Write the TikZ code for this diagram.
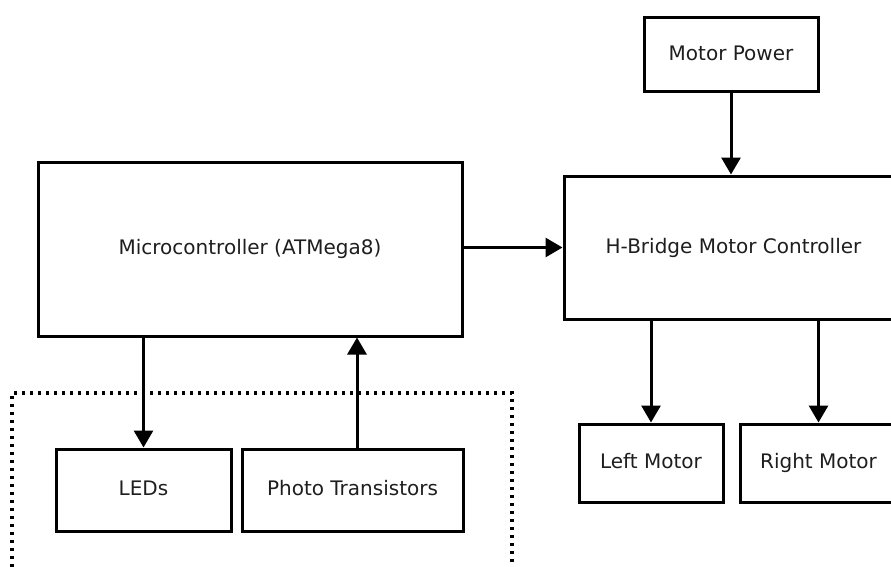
\documentclass[tikz,border=0pt]{standalone}
\usepackage{fontspec}
\setmainfont{DejaVu Sans}
\usetikzlibrary{arrows.meta}

\definecolor{inkline}{HTML}{000000}
\definecolor{inktext}{HTML}{1E1E1E}

\tikzset{
  block/.style={draw=inkline, line width=3pt, rectangle, inner sep=0pt,
                text=inktext, font=\fontsize{20}{24}\selectfont,
                text height=15pt, text depth=4pt},
  flow/.style={draw=inkline, line width=3pt, -{Triangle[width=19pt,length=17pt]}},
  group/.style={draw=inkline, line width=3.5pt, line cap=butt, dash pattern=on 3pt off 5pt}
}

\begin{document}
\begin{tikzpicture}[x=1pt, y=-1pt]
  % page frame and clipping
  \useasboundingbox (0,0) rectangle (891,567);
  \clip (0,0) rectangle (891,567);

  % blocks
  \node[block, minimum width=424pt, minimum height=174pt] (mcu)   at (250,249)   {Microcontroller (ATMega8)};
  \node[block, minimum width=339pt, minimum height=143pt] (hb)    at (733.5,247.5) {H-Bridge Motor Controller};
  \node[block, minimum width=174pt, minimum height=74pt]  (power) at (731,55)    {Motor Power};
  \node[block, minimum width=175pt, minimum height=82pt]  (leds)  at (143.5,490) {LEDs};
  \node[block, minimum width=221pt, minimum height=82pt]  (photo) at (352.5,490) {Photo Transistors};
  \node[block, minimum width=144pt, minimum height=78pt]  (lm)    at (651,463)   {Left Motor};
  \node[block, minimum width=157pt, minimum height=78pt]  (rm)    at (818.5,463) {Right Motor};

  % sensor board outline (dotted, runs off the bottom)
  \coordinate (gbl) at (12,575);
  \coordinate (gtl) at (12,393);
  \coordinate (gtr) at (512,393);
  \coordinate (gbr) at (512,575);
  \draw[group] (gbl) -- (gtl) -- (gtr) -- (gbr);

  % connections
  \draw[flow] (mcu.east |- hb.west) -- (hb.west);
  \draw[flow] (power.south) -- (power.south |- hb.north);
  \draw[flow] (mcu.south -| leds.north) -- (leds.north);
  \draw[flow] ([xshift=4.5pt]photo.north) -- ([xshift=4.5pt]photo.north |- mcu.south);
  \draw[flow] (hb.south -| lm.north) -- (lm.north);
  \draw[flow] (hb.south -| rm.north) -- (rm.north);
\end{tikzpicture}
\end{document}
